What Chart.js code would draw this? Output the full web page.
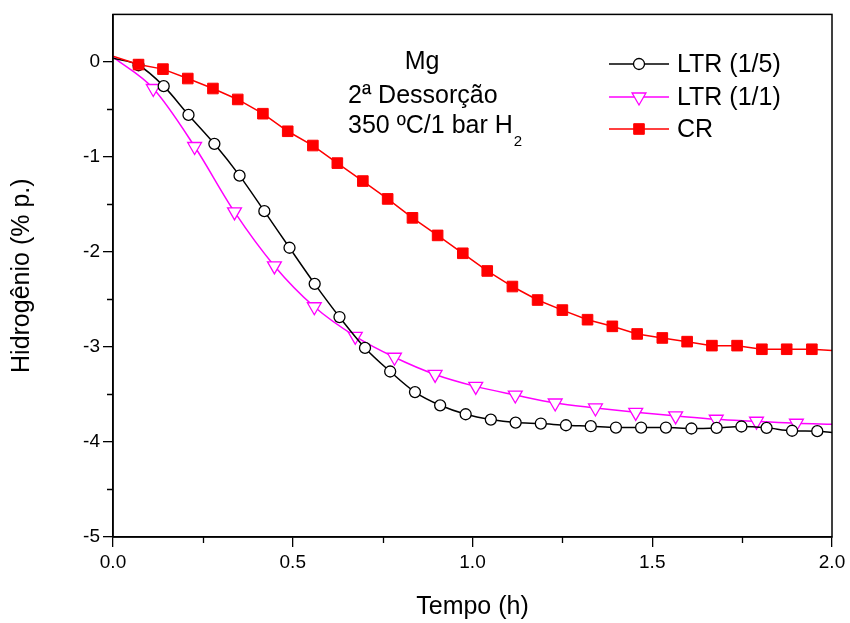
<!DOCTYPE html>
<html>
<head>
<meta charset="utf-8">
<script src="https://cdn.jsdelivr.net/npm/chart.js@4.4.0/dist/chart.umd.min.js"></script>
<style>
html, body { margin: 0; padding: 0; background: #fff; }
</style>
</head>
<body>
<canvas id="mycanvas" width="850" height="623"></canvas>
<script>
// LTR (1/5) - open circles
var ltr15_t = [0, 0.071, 0.141, 0.210, 0.282, 0.352, 0.421, 0.491, 0.561, 0.630, 0.701, 0.771, 0.840, 0.910, 0.981, 1.051, 1.120, 1.190, 1.260, 1.329, 1.399, 1.469, 1.538, 1.609, 1.679, 1.748, 1.818, 1.889, 1.959, 2.0];
var ltr15_h = [0.04, -0.035, -0.255, -0.558, -0.862, -1.197, -1.571, -1.956, -2.336, -2.685, -3.01, -3.258, -3.475, -3.614, -3.708, -3.764, -3.796, -3.806, -3.824, -3.834, -3.848, -3.848, -3.848, -3.858, -3.852, -3.837, -3.851, -3.882, -3.886, -3.90];

// LTR (1/1) - open triangles
var ltr11_t = [0, 0.112, 0.227, 0.338, 0.449, 0.560, 0.674, 0.783, 0.896, 1.009, 1.119, 1.230, 1.342, 1.454, 1.565, 1.678, 1.790, 1.901, 2.0];
var ltr11_h = [0.05, -0.28, -0.89, -1.579, -2.147, -2.577, -2.888, -3.108, -3.289, -3.415, -3.506, -3.590, -3.642, -3.688, -3.726, -3.761, -3.782, -3.803, -3.813];

// CR - filled squares
var cr_t = [0, 0.071, 0.139, 0.208, 0.278, 0.347, 0.417, 0.486, 0.556, 0.624, 0.695, 0.764, 0.833, 0.903, 0.973, 1.041, 1.111, 1.181, 1.250, 1.320, 1.389, 1.458, 1.528, 1.597, 1.666, 1.736, 1.805, 1.874, 1.944, 2.0];
var cr_h = [0.06, -0.028, -0.076, -0.175, -0.280, -0.395, -0.545, -0.730, -0.880, -1.065, -1.254, -1.442, -1.641, -1.826, -2.014, -2.200, -2.364, -2.506, -2.612, -2.713, -2.783, -2.863, -2.905, -2.944, -2.986, -2.986, -3.024, -3.024, -3.024, -3.038];

var xMinor = [0.25, 0.75, 1.25, 1.75];
var yMinor = [-4.5, -3.5, -2.5, -1.5, -0.5];

var FONT = '"Liberation Sans", Arial, sans-serif';

function toXY(t, h) {
	var out = [];
	for (var i = 0; i < t.length; i++) out.push({x: t[i], y: h[i]});
	return out;
}
// no marker on the first and last point (curve ends)
function radii(n, r) {
	var out = [];
	for (var i = 0; i < n; i++) out.push(i == 0 || i == n - 1 ? 0 : r);
	return out;
}

function marker(ctx, ds, x, y) {
	ctx.save();
	ctx.lineWidth = ds.pointBorderWidth;
	ctx.strokeStyle = ds.pointBorderColor;
	ctx.fillStyle = ds.pointBackgroundColor;
	ctx.beginPath();
	if (ds.pointStyle == 'circle') {
		ctx.arc(x, y, ds.legendR, 0, Math.PI * 2);
	} else if (ds.pointStyle == 'triangle') {
		var r = ds.legendR;
		ctx.moveTo(x, y + r);
		ctx.lineTo(x - r * 0.866, y - r / 2);
		ctx.lineTo(x + r * 0.866, y - r / 2);
		ctx.closePath();
	} else {
		var s = ds.legendR * Math.SQRT1_2;
		ctx.rect(x - s, y - s, 2 * s, 2 * s);
	}
	ctx.fill();
	ctx.stroke();
	ctx.restore();
}

var extras = {
	id: 'extras',
	afterDraw: function(chart) {
		var ctx = chart.ctx, a = chart.chartArea;
		var xs = chart.scales.x, ys = chart.scales.y;
		ctx.save();
		ctx.strokeStyle = '#000';
		ctx.lineWidth = 1.5;
		ctx.strokeRect(a.left, a.top, a.right - a.left, a.bottom - a.top);

		// minor ticks
		ctx.lineWidth = 1.3;
		ctx.beginPath();
		for (var i = 0; i < xMinor.length; i++) {
			var px = Math.round(xs.getPixelForValue(xMinor[i])) + 0.5;
			ctx.moveTo(px, a.bottom);
			ctx.lineTo(px, a.bottom + 6);
		}
		for (var j = 0; j < yMinor.length; j++) {
			var py = Math.round(ys.getPixelForValue(yMinor[j])) + 0.5;
			ctx.moveTo(a.left, py);
			ctx.lineTo(a.left - 6, py);
		}
		ctx.stroke();

		// legend
		var dsets = chart.data.datasets;
		var ly = [64, 97, 129];
		for (var k = 0; k < dsets.length; k++) {
			var ds = dsets[k];
			ctx.strokeStyle = ds.borderColor;
			ctx.lineWidth = 1.5;
			ctx.beginPath();
			ctx.moveTo(609, ly[k]);
			ctx.lineTo(669, ly[k]);
			ctx.stroke();
			marker(ctx, ds, 639, ly[k]);
			ctx.fillStyle = '#000';
			ctx.font = '25px ' + FONT;
			ctx.textBaseline = 'middle';
			ctx.textAlign = 'left';
			ctx.fillText(ds.label, 677, ly[k] + 1);
		}

		// annotation
		ctx.fillStyle = '#000';
		ctx.textBaseline = 'alphabetic';
		ctx.font = '25px ' + FONT;
		ctx.textAlign = 'center';
		ctx.fillText('Mg', 422, 69);
		ctx.textAlign = 'left';
		ctx.fillText('2ª Dessorção', 348, 103);
		ctx.fillText('350 ºC/1 bar H', 348, 133);
		var w = ctx.measureText('350 ºC/1 bar H').width;
		ctx.font = '15px ' + FONT;
		ctx.fillText('2', 348 + w + 1, 146);
		ctx.restore();
	}
};

var chartdata = {
	datasets: [
		{
			label: 'LTR (1/5)',
			data: toXY(ltr15_t, ltr15_h),
			borderColor: '#000000',
			borderWidth: 1.5,
			pointStyle: 'circle',
			pointRadius: radii(ltr15_t.length, 5.5),
			legendR: 5.5,
			pointBorderWidth: 1.3,
			pointBorderColor: '#000000',
			pointBackgroundColor: '#ffffff',
			cubicInterpolationMode: 'monotone',
			order: 2
		},
		{
			label: 'LTR (1/1)',
			data: toXY(ltr11_t, ltr11_h),
			borderColor: '#ff00ff',
			borderWidth: 1.5,
			pointStyle: 'triangle',
			pointRotation: 180,
			pointRadius: radii(ltr11_t.length, 8),
			legendR: 8,
			pointBorderWidth: 1.3,
			pointBorderColor: '#ff00ff',
			pointBackgroundColor: '#ffffff',
			cubicInterpolationMode: 'monotone',
			order: 3
		},
		{
			label: 'CR',
			data: toXY(cr_t, cr_h),
			borderColor: '#ff0000',
			borderWidth: 1.5,
			pointStyle: 'rect',
			pointRadius: radii(cr_t.length, 7.5),
			legendR: 7.5,
			pointBorderWidth: 1,
			pointBorderColor: '#ff0000',
			pointBackgroundColor: '#ff0000',
			tension: 0,
			order: 1
		}
	]
};

var ctx = document.getElementById('mycanvas');
var LineGraph = new Chart(ctx, {
	type: 'line',
	data: chartdata,
	plugins: [extras],
	options: {
		responsive: false,
		animation: false,
		events: [],
		layout: { padding: { top: 12, right: 18, left: 0, bottom: 0 } },
		plugins: { legend: { display: false }, tooltip: { enabled: false } },
		scales: {
			x: {
				type: 'linear',
				min: 0,
				max: 2,
				afterFit: function(s) { s.height = 86; },
				ticks: {
					stepSize: 0.5,
					includeBounds: false,
					color: '#000',
					font: { size: 19, family: FONT },
					padding: 4,
					maxRotation: 0,
					autoSkip: false,
					callback: function(v) { return v.toFixed(1); }
				},
				grid: { drawOnChartArea: false, drawTicks: true, tickLength: 10, color: '#000', lineWidth: 1.3 },
				border: { display: true, color: '#000', width: 1.5 },
				title: { display: true, text: 'Tempo (h)', color: '#000', font: { size: 25, family: FONT }, padding: { top: 0, bottom: 1 } }
			},
			y: {
				type: 'linear',
				min: -5,
				max: 0.5,
				afterFit: function(s) { s.width = 113; },
				ticks: {
					stepSize: 1,
					includeBounds: false,
					color: '#000',
					font: { size: 19, family: FONT },
					padding: 3,
					callback: function(v) { return String(v); }
				},
				grid: { drawOnChartArea: false, drawTicks: true, tickLength: 10, color: '#000', lineWidth: 1.3 },
				border: { display: true, color: '#000', width: 1.5 },
				title: { display: true, text: 'Hidrogênio (% p.)', color: '#000', font: { size: 25, family: FONT }, padding: { top: 7, bottom: 0 } }
			}
		}
	}
});
</script>
</body>
</html>
